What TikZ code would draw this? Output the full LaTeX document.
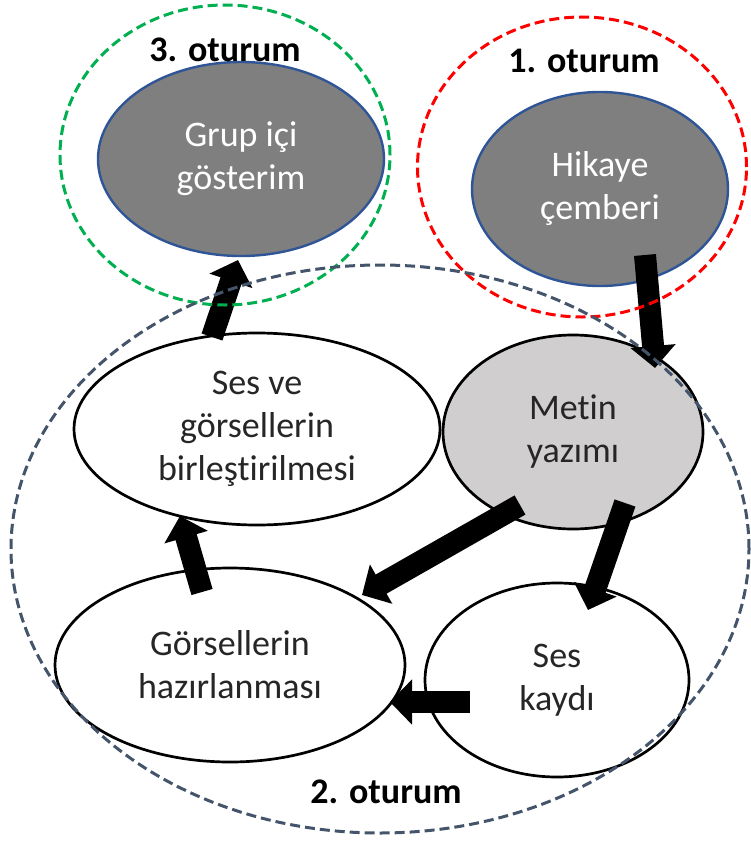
\documentclass[tikz,border=0pt]{standalone}
\usepackage{fontspec}
\setmainfont{Carlito}[Ligatures=NoCommon]
\usetikzlibrary{shapes.geometric,arrows.meta,calc}

\definecolor{darkfill}{HTML}{7F7F7F}
\definecolor{blueedge}{HTML}{2F5597}
\definecolor{lightfill}{HTML}{D0CECE}
\definecolor{sessgreen}{HTML}{00B050}
\definecolor{sessred}{HTML}{FF0000}
\definecolor{sessslate}{HTML}{44546A}
\definecolor{inktext}{HTML}{262626}

\begin{document}
\begin{tikzpicture}[x=1pt,y=-1pt,
  stage/.style={ellipse, draw=black, line width=2.7pt, fill=white, inner sep=0pt,
    align=center, font=\fontsize{36}{43}\selectfont, text=inktext},
  keystage/.style={stage, draw=blueedge, line width=2.4pt, fill=darkfill, text=white},
  session/.style={ellipse, inner sep=0pt, line width=3pt, dash pattern=on 10pt off 5pt},
  sessionlabel/.style={inner sep=0pt, font=\fontsize{36}{43}\selectfont\bfseries, text=black},
  flow/.style={line width=22pt, -{Triangle[length=22pt,width=44pt]}}
]
\useasboundingbox (0,0) rectangle (750,843);

% activity ellipses
\node[keystage, minimum width=286pt, minimum height=194pt] (grup)   at (241,159) {Grup içi\\gösterim};
\node[keystage, minimum width=256pt, minimum height=194pt] (hikaye) at (600,189) {Hikaye\\çemberi};
\node[stage, minimum width=366pt, minimum height=192pt] (birles) at (257,429) {Ses ve\\görsellerin\\birleştirilmesi};
\node[stage, fill=lightfill, minimum width=260pt, minimum height=194pt] (metin) at (573,432) {Metin\\yazımı};
\node[stage, minimum width=350pt, minimum height=194pt] (gorsel) at (230,665) {Görsellerin\\hazırlanması};
\node[stage, minimum width=264pt, minimum height=194pt] (seskayit) at (557,680) {Ses\\kaydı};

% block arrows between the activities
\draw[flow] ($(hikaye.center)+(45,66)$)   -- ($(metin.center)+(82,-64)$);
\draw[flow] ($(birles.center)+(-45,-92)$) -- ($(grup.center)+(-3,101)$);
\draw[flow] ($(metin.center)+(-53,73)$)   -- ($(gorsel.center)+(132,-70)$);
\draw[flow] ($(metin.center)+(52,71)$)    -- ($(seskayit.center)+(31,-70)$);
\draw[flow] ($(seskayit.center)+(-87,22)$) -- ($(gorsel.center)+(160,37)$);
\draw[flow] ($(gorsel.center)+(-28,-73)$) -- ($(birles.center)+(-77,87)$);

% session outlines
\node[session, draw=sessgreen, minimum width=330pt, minimum height=300pt] (s3) at (225,155) {};
\node[session, draw=sessred, minimum width=329pt, minimum height=300pt] (s1) at (582,167) {};
\node[session, draw=sessslate, minimum width=738pt, minimum height=568pt] (s2) at (380,549) {};

% session labels
\node[sessionlabel] (l3) at (225,50) {3. oturum};
\node[sessionlabel] (l1) at (584,61) {1. oturum};
\node[sessionlabel] (l2) at (386,792) {2. oturum};
\end{tikzpicture}
\end{document}
